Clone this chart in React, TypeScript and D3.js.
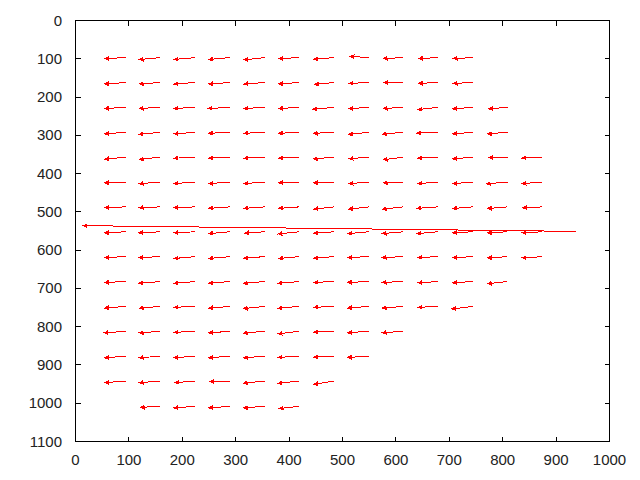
import React from "react";
import * as d3 from "d3";

// tail positions of the vector grid (data units)
const colX = [94, 159, 224, 289, 354, 419, 484, 549, 614, 679, 744, 809, 874];
const rowY = [97, 162, 227, 292, 357, 422, 487, 552, 617, 682, 747, 812, 877, 942, 1008];
// first occupied column of each row
const rowFirstCol = [0, 0, 0, 0, 0, 0, 0, 0, 0, 0, 0, 0, 0, 0, 1];

// vector components per row (dx, dy)
const vecDx = [
  [-41, -41, -41, -41, -40, -40, -39, -36, -39, -38, -38],
  [-41, -41, -41, -41, -40, -40, -38, -38, -39, -38, -38],
  [-41, -41, -41, -42, -40, -40, -41, -39, -39, -39, -39, -37],
  [-41, -42, -41, -41, -40, -40, -40, -39, -41, -41, -39, -39],
  [-41, -41, -41, -41, -40, -40, -40, -38, -39, -39, -39, -37, -39],
  [-41, -41, -41, -41, -40, -40, -40, -38, -39, -39, -39, -41, -39],
  [-41, -41, -41, -41, -40, -40, -39, -39, -41, -41, -39, -39, -38],
  [-41, -42, -41, -41, -39, -41, -39, -40, -41, -41, -39, -39, -39],
  [-41, -42, -41, -41, -40, -40, -39, -41, -41, -39, -39, -39, -39],
  [-41, -42, -41, -41, -41, -41, -39, -41, -41, -39, -39, -39],
  [-41, -41, -41, -41, -41, -41, -39, -41, -41, -39, -41],
  [-42, -41, -41, -41, -41, -41, -39, -41, -41],
  [-41, -41, -41, -41, -41, -41, -39, -41],
  [-41, -41, -39, -39, -41, -41, -39],
  [-39, -41, -41, -41, -39],
];
const vecDy = [
  [2.5, 5, 5, 5, 6, 2.5, 4, -3.5, 2.5, 2.5, 2.5],
  [4, 4, 4, 4, 4, 4, 5, 2.5, 0, 2.5, 2.5],
  [3, 3, 3, 3, 3, 3, 5, 3.5, 3, 6, 4, 4],
  [4.5, 6, 4.5, 3, 3, 3, 3, 6, 5, 2.5, 4.5, 4.5],
  [6, 6, 3, 3, 3, 3, 5, 4.5, 7, 2.5, 5, 1, 2.5],
  [2.5, 4.5, 4.5, 4.5, 4.5, 2, 2, 4.5, 2.5, 4.5, 4.5, 5, 4.5],
  [2, 2, 2, 4, 4, 4, 6, 6, 6, 4, 4.5, 4.5, 2.5],
  [3, 3, 3, 5, 4, 6, 4, 5, 5, 5, 3, 3, 3],
  [2.5, 2.5, 5, 5, 4, 5, 4, 2.5, 2.5, 2.5, 3, 3.5, 3.5],
  [2.5, 5, 5, 5, 5, 5, 2.5, 2.5, 2.5, 3.5, 3.5, 6],
  [4.5, 4.5, 2.5, 5, 6, 5, 2.5, 4.5, 4.5, 2.5, 7],
  [4.5, 4.5, 3, 4.5, 5, 7, 2, 4, 4],
  [4.5, 4.5, 4.5, 4.5, 4.5, 3.5, 2.5, 3.5],
  [4.5, 4.5, 4.5, 2, 6, 6, 9],
  [3, 4.5, 4.5, 4.5, 6],
];

// the one outlier vector
const outlier = { x: 938, y: 551, dx: -925, dy: -15 };

const xTicks = [0, 100, 200, 300, 400, 500, 600, 700, 800, 900, 1000];
const yTicks = [0, 100, 200, 300, 400, 500, 600, 700, 800, 900, 1000, 1100];

const W = 640;
const H = 480;
const left = 75.5, right = 609.5, top = 20.5, bottom = 441.5;

const x = d3.scaleLinear().domain([0, 1000]).range([left, right]);
const y = d3.scaleLinear().domain([0, 1100]).range([top, bottom]);

const vectors: { x: number; y: number; dx: number; dy: number }[] = [];
rowY.forEach((ry, r) => {
  vecDx[r].forEach((dx, i) => {
    vectors.push({ x: colX[rowFirstCol[r] + i], y: ry, dx, dy: vecDy[r][i] });
  });
});
vectors.push(outlier);

const Arrow = ({ v }: { v: { x: number; y: number; dx: number; dy: number } }) => {
  const x1 = x(v.x), y1 = y(v.y);
  const x2 = x(v.x + v.dx), y2 = y(v.y + v.dy);
  const len = Math.hypot(x2 - x1, y2 - y1);
  const ux = (x2 - x1) / len, uy = (y2 - y1) / len;
  const hl = 5, hw = 2.5;
  const bx = x2 - ux * hl, by = y2 - uy * hl;
  const pts = [
    [x2, y2],
    [bx - uy * hw, by + ux * hw],
    [bx + uy * hw, by - ux * hw],
  ];
  return (
    <g>
      <line x1={x1} y1={y1} x2={x2} y2={y2} stroke="#ff0000" strokeWidth={1} />
      <polygon points={pts.map((p) => p.join(",")).join(" ")} fill="#ff0000" />
    </g>
  );
};

export default function App() {
  return (
    <svg
      width={W}
      height={H}
      style={{ position: "absolute", left: 0, top: 0, background: "#fff" }}
      fontFamily="'Liberation Sans', Arial, sans-serif"
      fontSize={15}
    >
      <rect width={W} height={H} fill="#fff" />
      <g shapeRendering="crispEdges">
        {vectors.map((v, i) => (
          <Arrow key={i} v={v} />
        ))}
      </g>
      <g stroke="#000" strokeWidth={1} shapeRendering="crispEdges">
        <rect x={left} y={top} width={right - left} height={bottom - top} fill="none" />
        {xTicks.map((t) => (
          <g key={"x" + t}>
            <line x1={x(t)} x2={x(t)} y1={bottom} y2={bottom - 5} />
            <line x1={x(t)} x2={x(t)} y1={top} y2={top + 5} />
          </g>
        ))}
        {yTicks.map((t) => (
          <g key={"y" + t}>
            <line x1={left} x2={left + 5} y1={y(t)} y2={y(t)} />
            <line x1={right} x2={right - 5} y1={y(t)} y2={y(t)} />
          </g>
        ))}
      </g>
      <g fill="#222">
        {xTicks.map((t) => (
          <text key={"xl" + t} x={x(t)} y={465} textAnchor="middle">
            {t}
          </text>
        ))}
        {yTicks.map((t) => (
          <text key={"yl" + t} x={62} y={y(t) + 5} textAnchor="end">
            {t}
          </text>
        ))}
      </g>
    </svg>
  );
}
